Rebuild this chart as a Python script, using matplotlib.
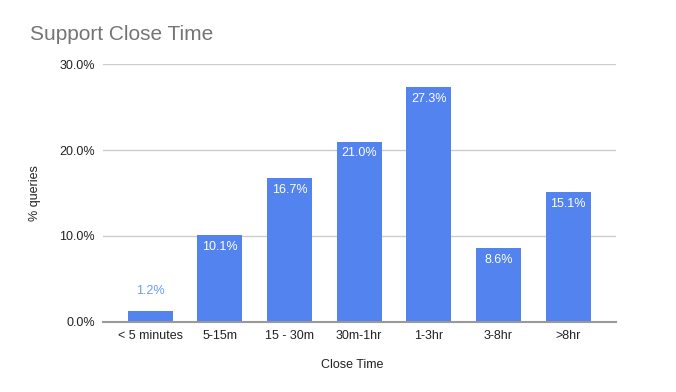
import matplotlib
matplotlib.use("Agg")
import matplotlib.pyplot as plt

categories = ["< 5 minutes", "5-15m", "15 - 30m", "30m-1hr", "1-3hr", "3-8hr", ">8hr"]
values = [1.2, 10.1, 16.7, 21.0, 27.3, 8.6, 15.1]
yticks = [0, 10, 20, 30]

plt.rcParams["font.family"] = ["Liberation Sans", "DejaVu Sans"]

fig = plt.figure(figsize=(6.76, 3.92), dpi=100)
ax = fig.add_axes([0.1524, 0.1793, 0.7588, 0.6567])

bar_color = "#5283ef"
x = range(len(categories))
bars = ax.bar(x, values, width=0.646, color=bar_color, zorder=3)

for b, v in zip(bars, values):
    cx = b.get_x() + b.get_width() / 2
    if v < 5:
        ax.annotate(f"{v:.1f}%", (cx, v), xytext=(0, 15), textcoords="offset points",
                    ha="center", va="center", fontsize=9, color="#6f9af3")
    else:
        ax.annotate(f"{v:.1f}%", (cx, v), xytext=(0, -8.5), textcoords="offset points",
                    ha="center", va="center", fontsize=9, color="white")

ax.set_xlim(-0.675, 6.685)
ax.set_ylim(0, 30)
ax.set_yticks(yticks)
ax.set_yticklabels([f"{t:.1f}%" for t in yticks], fontsize=9, color="#222222")
ax.set_xticks(list(x))
ax.set_xticklabels(categories, fontsize=9, color="#222222")
ax.tick_params(length=0, pad=6)
ax.grid(axis="y", color="#cccccc", linewidth=1, zorder=0)
for s in ["top", "right", "left"]:
    ax.spines[s].set_visible(False)
ax.spines["bottom"].set_color("#999999")
ax.spines["bottom"].set_linewidth(1.5)
ax.spines["bottom"].set_zorder(4)

fig.text(352 / 676, 1 - 365 / 392, "Close Time", ha="center", va="center", fontsize=9, color="#222222")
fig.text(35 / 676, 1 - 193 / 392, "% queries", ha="center", va="center", rotation=90, fontsize=9, color="#222222")
fig.text(30 / 676, 1 - 35 / 392, "Support Close Time", ha="left", va="center", fontsize=15, color="#757575")

fig.savefig("out.png", dpi=100)
